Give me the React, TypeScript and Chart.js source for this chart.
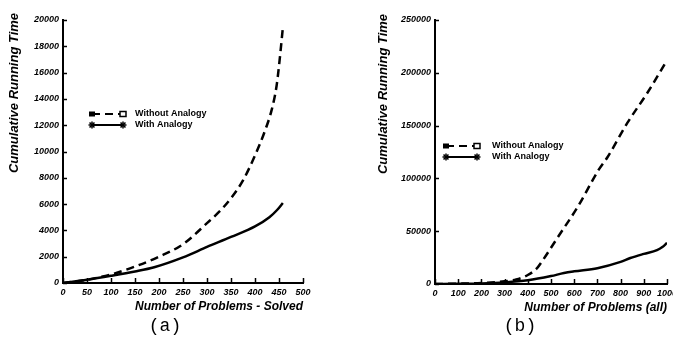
import React, { useEffect, useRef } from "react";
import { Chart, registerables } from "chart.js";

Chart.register(...registerables);

// ---------- data: chart (a) ----------
const aWithoutX = [0, 50, 100, 150, 200, 250, 300, 325, 350, 375, 400, 420, 435, 445, 452, 458];
const aWithoutY = [0, 250, 650, 1250, 2000, 2950, 4550, 5400, 6450, 7800, 9700, 11500, 13200, 15000, 17200, 19400];
const aWithX = [0, 50, 100, 150, 190, 250, 300, 350, 400, 430, 446, 458];
const aWithY = [0, 250, 550, 880, 1200, 1950, 2740, 3500, 4300, 5000, 5550, 6080];

// ---------- data: chart (b) ----------
const bWithoutX = [0, 100, 200, 300, 350, 400, 440, 460, 530, 615, 705, 744, 829, 915, 995];
const bWithoutY = [0, 300, 900, 2500, 4200, 8500, 15000, 21000, 44500, 73000, 108000, 120300, 152500, 180900, 210000];
const bWithX = [0, 100, 200, 300, 400, 500, 556, 600, 700, 800, 842, 900, 957, 980, 1000];
const bWithY = [0, 200, 500, 1500, 3500, 7500, 10400, 12000, 15000, 21000, 24600, 28500, 32000, 35000, 39000];

const seriesLabels = ["Without Analogy", "With Analogy"];
const yTitle = "Cumulative Running Time";
const aXTitle = "Number of Problems - Solved";
const bXTitle = "Number of Problems (all)";
const panelLabels = ["(a)", "(b)"];

const FONT = "'Liberation Sans', Arial, Helvetica, sans-serif";

const pts = (xs: number[], ys: number[]) => xs.map((x, i) => ({ x, y: ys[i] }));

const decorPlugin = {
  id: "decor",
  afterDraw(chart: any, _args: any, opts: any) {
    const ctx = chart.ctx;
    const xs = chart.scales.x;
    const ys = chart.scales.y;
    const area = chart.chartArea;
    ctx.save();
    ctx.strokeStyle = "#000";
    ctx.lineWidth = 1.5;
    // inward tick marks
    xs.ticks.forEach((t: any) => {
      const px = Math.round(xs.getPixelForValue(t.value)) + 0.5;
      ctx.beginPath();
      ctx.moveTo(px, area.bottom);
      ctx.lineTo(px, area.bottom - 5);
      ctx.stroke();
    });
    ys.ticks.forEach((t: any) => {
      const py = Math.round(ys.getPixelForValue(t.value)) + 0.5;
      ctx.beginPath();
      ctx.moveTo(area.left, py);
      ctx.lineTo(area.left + 4, py);
      ctx.stroke();
    });
    // y title
    ctx.fillStyle = "#000";
    ctx.font = `italic bold 13px ${FONT}`;
    ctx.textAlign = "center";
    ctx.textBaseline = "middle";
    ctx.translate(opts.titleX, opts.titleY);
    ctx.rotate(-Math.PI / 2);
    ctx.fillText(opts.title, 0, 0);
    ctx.setTransform(1, 0, 0, 1, 0, 0);
    // legend
    const lg = opts.legend;
    chart.data.datasets.forEach((ds: any, i: number) => {
      const y = lg.y + i * lg.gap;
      ctx.strokeStyle = "#000";
      ctx.lineWidth = 2;
      ctx.setLineDash(ds.borderDash || []);
      ctx.beginPath();
      ctx.moveTo(lg.x0, y);
      ctx.lineTo(lg.x1, y);
      ctx.stroke();
      ctx.setLineDash([]);
      if (i === 0) {
        ctx.fillStyle = "#000";
        ctx.fillRect(lg.x0 - 3, y - 2.5, 6, 5);
        ctx.fillStyle = "#fff";
        ctx.fillRect(lg.x1 - 3, y - 2.5, 6, 5);
        ctx.lineWidth = 1.5;
        ctx.strokeRect(lg.x1 - 3, y - 2.5, 6, 5);
      } else {
        [lg.x0, lg.x1].forEach((cx: number) => {
          ctx.lineWidth = 1.5;
          const r = 3.5;
          for (let k = 0; k < 4; k++) {
            const a = (k * Math.PI) / 4;
            ctx.beginPath();
            ctx.moveTo(cx - r * Math.cos(a), y - r * Math.sin(a));
            ctx.lineTo(cx + r * Math.cos(a), y + r * Math.sin(a));
            ctx.stroke();
          }
        });
      }
      ctx.fillStyle = "#000";
      ctx.font = `bold 9px ${FONT}`;
      ctx.textAlign = "left";
      ctx.textBaseline = "middle";
      ctx.fillText(ds.label, lg.textX, y);
    });
    ctx.restore();
  },
};

function makeConfig(p: any) {
  const tickFont = { family: FONT, size: 9, style: "italic" as const, weight: "bold" as const };
  return {
    type: "line" as const,
    data: {
      datasets: [
        {
          label: seriesLabels[0],
          data: p.without,
          borderColor: "#000",
          borderWidth: 2.5,
          borderDash: [8, 5],
          pointRadius: 0,
          fill: false,
          cubicInterpolationMode: "monotone" as const,
        },
        {
          label: seriesLabels[1],
          data: p.withA,
          borderColor: "#000",
          borderWidth: 2.5,
          pointRadius: 0,
          fill: false,
          cubicInterpolationMode: "monotone" as const,
        },
      ],
    },
    options: {
      responsive: false,
      animation: false as const,
      events: [],
      layout: { padding: p.padding },
      plugins: {
        legend: { display: false },
        title: { display: false },
        tooltip: { enabled: false },
        decor: { title: yTitle, titleX: p.titleX, titleY: p.titleY, legend: p.legend },
      },
      scales: {
        x: {
          type: "linear" as const,
          min: 0,
          max: p.xMax,
          grid: { display: false, drawTicks: false },
          border: { display: true, color: "#000", width: 2 },
          ticks: {
            stepSize: p.xStep,
            autoSkip: false,
            maxRotation: 0,
            padding: 4,
            color: "#000",
            font: tickFont,
            callback: (v: any) => String(v),
          },
          title: {
            display: true,
            text: p.xTitle,
            align: "end" as const,
            color: "#000",
            font: { family: FONT, size: 12, style: "italic" as const, weight: "bold" as const },
            padding: { top: 2, bottom: 4 },
          },
          afterFit: (s: any) => {
            s.height = 35;
          },
        },
        y: {
          type: "linear" as const,
          min: 0,
          max: p.yMax,
          grid: { display: false, drawTicks: false },
          border: { display: true, color: "#000", width: 2 },
          ticks: {
            stepSize: p.yStep,
            padding: 4,
            color: "#000",
            font: tickFont,
            callback: (v: any) => String(v),
          },
          afterFit: (s: any) => {
            s.width = p.yWidth;
          },
        },
      },
    },
    plugins: [decorPlugin],
  };
}

function ChartCanvas(props: { cfg: any; width: number; height: number; left: number }) {
  const ref = useRef<HTMLCanvasElement | null>(null);
  useEffect(() => {
    if (!ref.current) return;
    const chart = new Chart(ref.current, props.cfg);
    return () => chart.destroy();
  }, []);
  return (
    <canvas
      ref={ref}
      width={props.width}
      height={props.height}
      style={{ position: "absolute", left: props.left, top: 0, width: props.width, height: props.height }}
    />
  );
}

export default function App() {
  const cfgA = makeConfig({
    without: pts(aWithoutX, aWithoutY),
    withA: pts(aWithX, aWithY),
    xMax: 500,
    xStep: 50,
    yMax: 20000,
    yStep: 2000,
    xTitle: aXTitle,
    padding: { left: 0, top: 20, right: 27, bottom: 22 },
    yWidth: 63,
    titleX: 14,
    titleY: 93,
    legend: { x0: 92, x1: 123, textX: 135, y: 114, gap: 11 },
  });
  const cfgB = makeConfig({
    without: pts(bWithoutX, bWithoutY),
    withA: pts(bWithX, bWithY),
    xMax: 1000,
    xStep: 100,
    yMax: 250000,
    yStep: 50000,
    xTitle: bXTitle,
    padding: { left: 0, top: 20, right: 18, bottom: 21 },
    yWidth: 95,
    titleX: 43,
    titleY: 94,
    legend: { x0: 106, x1: 137, textX: 152, y: 146, gap: 11 },
  });
  const labelStyle = {
    position: "absolute" as const,
    top: 315,
    width: 60,
    textAlign: "center" as const,
    fontFamily: "'Liberation Mono', 'DejaVu Sans Mono', monospace",
    fontSize: 18,
    lineHeight: "22px",
    color: "#000",
  };
  return (
    <div
      style={{
        position: "fixed",
        left: 0,
        top: 0,
        width: 673,
        height: 340,
        overflow: "hidden",
        background: "#fff",
      }}
    >
      <ChartCanvas cfg={cfgA} width={330} height={340} left={0} />
      <ChartCanvas cfg={cfgB} width={345} height={340} left={340} />
      <div style={{ ...labelStyle, left: 165 - 30 }}>{panelLabels[0]}</div>
      <div style={{ ...labelStyle, left: 520 - 30 }}>{panelLabels[1]}</div>
    </div>
  );
}
